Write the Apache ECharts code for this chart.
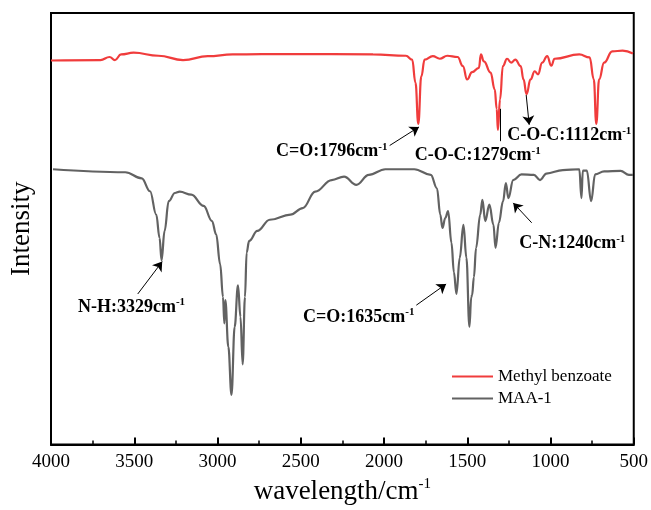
<!DOCTYPE html>
<html>
<head>
<meta charset="utf-8">
<script src="https://cdn.jsdelivr.net/npm/echarts@6/dist/echarts.min.js"></script>
<style>html,body{margin:0;padding:0;background:#fff}#c{width:651px;height:510px}</style>
</head>
<body>
<div id="c"></div>
<script>
// wavenumbers (cm-1) and relative intensity (arbitrary units, 0-100)
const benzoateWave = [4000,3703,3648,3616,3579,3504,3355,3207,3058,2909,2562,2066,1868,1831,1811,1794,1776,1756,1707,1665,1620,1558,1526,1501,1471,1430,1418,1400,1360,1335,1323,1316,1303,1286,1261,1236,1211,1179,1162,1144,1120,1095,1075,1050,1020,995,976,827,765,740,725,708,678,629,567,505];
const benzoateVal  = [89.0,89.1,89.8,89.1,90.4,90.8,90.1,89.1,90.0,90.4,90.5,90.4,90.1,89.2,83.9,74.3,85.3,89.2,90.0,89.4,90.1,89.8,87.7,84.6,86.3,87.3,90.4,88.8,86.2,82.3,77.8,72.9,80.0,87.7,89.4,88.5,89.2,87.7,84.6,81.2,84.6,86.5,85.8,88.5,90.0,87.8,89.4,90.4,89.7,84.6,74.3,84.6,88.5,91.1,91.3,90.6];

const maaWave = [3988,3554,3455,3405,3368,3348,3336,3318,3293,3256,3227,3157,3083,3033,3008,2984,2967,2959,2953,2935,2916,2897,2877,2862,2849,2835,2825,2810,2761,2686,2562,2488,2413,2314,2240,2166,2091,1992,1818,1719,1682,1662,1649,1632,1615,1595,1580,1565,1545,1523,1505,1487,1476,1471,1460,1447,1422,1409,1392,1367,1343,1330,1310,1285,1268,1253,1224,1174,1100,1063,1025,926,827,814,806,782,756,732,678,579,529,505];
const maaVal  = [63.8,63.1,61.7,58.7,53.3,47.9,42.7,49.5,56.4,58.3,58.6,57.9,55.3,51.8,48.7,41.8,34.2,28.1,33.5,22.7,11.5,27.3,36.9,29.6,18.6,34.2,44.5,47.2,49.5,52.1,53.3,54.8,58.6,61.3,62.1,60.2,62.5,63.8,63.8,62.5,59.4,53.3,50.2,52.5,54.1,46.8,39.9,34.9,43.3,50.9,43.3,27.3,34.2,34.6,38.8,45.6,53.3,56.7,51.8,55.6,51.0,45.6,51.4,56.4,60.6,57.1,61.3,62.6,62.5,61.3,62.8,63.6,63.8,57.1,63.5,63.5,56.4,62.6,63.3,63.4,62.5,62.5];

const seriesNames = ['Methyl benzoate', 'MAA-1'];
const xTicks = {min: 500, max: 4000, step: 500};

// annotations: label text, label anchor (data units), pointer line start/end (data units)
const annText  = ['C=O:1796cm', 'C-O-C:1279cm', 'C-O-C:1112cm', 'N-H:3329cm', 'C=O:1635cm', 'C-N:1240cm'];
const annLabelAt = [[2648,67.9],[1816,67.0],[1260,71.6],[3838,31.9],[2486,29.6],[1188,46.6]];
const annFrom  = [[1966,69.3],[1303,77.8],[1146,81.0],[3479,34.9],[1806,32.3],[1113,51.4]];
const annTo    = [[1790,73.6],[1303,70.3],[1128,74.1],[3332,42.4],[1627,37.2],[1224,56.0]];
const annArrow = [true,false,true,true,true,true];

const FONT = 'Liberation Serif';
const pairs = (xs, ys) => xs.map((x, i) => [x, ys[i]]);

const chart = echarts.init(document.getElementById('c'), null, {renderer: 'canvas'});

const markLineData = annFrom.map((f, i) => [
  {coord: f, symbol: 'none'},
  {coord: annTo[i], symbol: annArrow[i] ? 'arrow' : 'none', symbolSize: 9}
]);

const option = {
  animation: false,
  backgroundColor: '#fff',
  grid: {left: 50, right: 16, top: 13, bottom: 61, show: true, borderColor: '#000', borderWidth: 2, backgroundColor: 'transparent'},
  legend: {
    orient: 'vertical', left: 447, top: 363,
    itemWidth: 41, itemHeight: 2, itemGap: 5, icon: 'rect',
    textStyle: {fontFamily: FONT, fontSize: 17, color: '#000', lineHeight: 17, padding: [0,0,0,0]},
    data: seriesNames
  },
  xAxis: {
    type: 'value', inverse: true, min: xTicks.min, max: xTicks.max, interval: xTicks.step,
    name: '{a|wavelength/cm}{s|-1}', nameLocation: 'middle', nameGap: 31,
    nameTextStyle: {rich: {
      a: {fontFamily: FONT, fontSize: 27, color: '#000', lineHeight: 30},
      s: {fontFamily: FONT, fontSize: 15, color: '#000', lineHeight: 15, verticalAlign: 'top'}
    }},
    axisLine: {show: true, lineStyle: {color: '#000', width: 2}},
    axisTick: {show: true, inside: true, length: 7, lineStyle: {color: '#000', width: 2}},
    minorTick: {show: true, splitNumber: 2, length: 4, lineStyle: {color: '#000', width: 1.5}},
    axisLabel: {fontFamily: FONT, fontSize: 19, color: '#000', margin: 8, showMinLabel: true, showMaxLabel: true,
      formatter: v => String(v)},
    splitLine: {show: false}
  },
  yAxis: {
    type: 'value', min: 0, max: 100,
    name: 'Intensity', nameLocation: 'middle', nameGap: 16,
    nameTextStyle: {fontFamily: FONT, fontSize: 27, color: '#000'},
    axisLine: {show: true, lineStyle: {color: '#000', width: 2}},
    axisTick: {show: false}, axisLabel: {show: false}, splitLine: {show: false}
  },
  series: [
    {
      name: seriesNames[0], type: 'line', data: pairs(benzoateWave, benzoateVal),
      showSymbol: false, symbol: 'none', smooth: 0.45, smoothMonotone: 'x',
      lineStyle: {color: '#f03c3c', width: 2.2}, itemStyle: {color: '#f03c3c'}, z: 3
    },
    {
      name: seriesNames[1], type: 'line', data: pairs(maaWave, maaVal),
      showSymbol: false, symbol: 'none', smooth: 0.4, smoothMonotone: 'x',
      lineStyle: {color: '#626262', width: 2.2}, itemStyle: {color: '#626262'}, z: 3,
      markLine: {
        silent: true, animation: false, symbol: ['none', 'arrow'], symbolSize: 9,
        lineStyle: {color: '#000', width: 1, type: 'solid'},
        label: {show: false}, emphasis: {disabled: true},
        data: markLineData
      }
    }
  ]
};
chart.setOption(option);

const graphics = annText.map((t, i) => {
  const p = chart.convertToPixel({gridIndex: 0}, annLabelAt[i]);
  return {
    type: 'text', x: p[0], y: p[1], z: 10,
    style: {
      text: '{a|' + t + '}{s|-1}',
      verticalAlign: 'middle', align: 'left',
      rich: {
        a: {fontFamily: FONT, fontWeight: 'bold', fontSize: 18, fill: '#000', lineHeight: 20},
        s: {fontFamily: FONT, fontWeight: 'bold', fontSize: 11, fill: '#000', lineHeight: 11, verticalAlign: 'top'}
      }
    }
  };
});
chart.setOption({graphic: graphics});
</script>
</body>
</html>
